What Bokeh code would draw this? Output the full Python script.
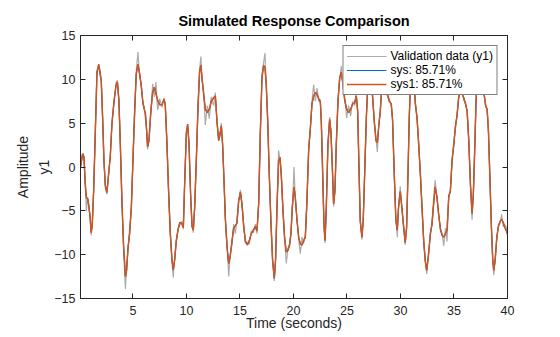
from bokeh.plotting import figure
from bokeh.models import (ColumnDataSource, Range1d, FixedTicker, LinearAxis, Title,
                          Legend, LegendItem)
from bokeh.embed import file_html
from bokeh.resources import INLINE

# ---------------- data ----------------
time_s = [0.1, 0.3, 0.42, 0.55, 0.65, 0.78, 0.9, 1.0, 1.1, 1.2, 1.33, 1.48, 1.64, 1.8, 1.92,
          2.04, 2.17, 2.29, 2.42, 2.57, 2.73, 2.88, 3.04, 3.23, 3.42, 3.55, 3.69, 3.82, 3.97,
          4.13, 4.3, 4.41, 4.53, 4.69, 4.85, 5.0, 5.16, 5.31, 5.47, 5.62, 5.78, 5.92, 6.05,
          6.16, 6.28, 6.37, 6.5, 6.65, 6.84, 7.0, 7.15, 7.31, 7.5, 7.71, 7.9, 8.02, 8.18,
          8.33, 8.49, 8.65, 8.77, 8.9, 9.05, 9.21, 9.39, 9.58, 9.71, 9.83, 9.99, 10.11,
          10.24, 10.39, 10.52, 10.64, 10.77, 10.92, 11.08, 11.23, 11.35, 11.45, 11.61,
          11.76, 11.95, 12.14, 12.32, 12.54, 12.7, 12.85, 13.01, 13.13, 13.26, 13.38,
          13.51, 13.63, 13.79, 13.95, 14.1, 14.26, 14.41, 14.57, 14.72, 14.88, 15.04,
          15.19, 15.35, 15.5, 15.69, 15.87, 16.06, 16.25, 16.44, 16.59, 16.75, 16.9,
          17.06, 17.21, 17.34, 17.46, 17.59, 17.74, 17.9, 18.05, 18.21, 18.33, 18.46,
          18.61, 18.74, 18.86, 19.02, 19.17, 19.33, 19.49, 19.64, 19.77, 19.89, 20.05,
          20.17, 20.33, 20.49, 20.64, 20.8, 20.95, 21.11, 21.26, 21.42, 21.58, 21.73,
          21.89, 22.05, 22.2, 22.36, 22.51, 22.6, 22.73, 22.85, 22.95, 23.07, 23.22,
          23.38, 23.5, 23.63, 23.75, 23.88, 24.0, 24.16, 24.32, 24.47, 24.63, 24.78,
          24.97, 25.15, 25.34, 25.53, 25.71, 25.87, 26.0, 26.12, 26.24, 26.4, 26.52,
          26.65, 26.81, 26.96, 27.09, 27.24, 27.4, 27.55, 27.71, 27.84, 27.96, 28.11,
          28.27, 28.42, 28.58, 28.73, 28.95, 29.14, 29.26, 29.42, 29.57, 29.7, 29.82,
          29.98, 30.13, 30.29, 30.44, 30.57, 30.7, 30.82, 30.95, 31.08, 31.23, 31.39,
          31.55, 31.7, 31.86, 32.01, 32.17, 32.32, 32.45, 32.63, 32.79, 32.94, 33.1,
          33.24, 33.41, 33.57, 33.73, 33.88, 34.04, 34.2, 34.35, 34.51, 34.66, 34.82,
          34.98, 35.13, 35.29, 35.44, 35.6, 35.76, 35.91, 36.07, 36.23, 36.38, 36.54,
          36.69, 36.81, 36.94, 37.06, 37.18, 37.35, 37.5, 37.65, 37.8, 37.95, 38.1,
          38.22, 38.35, 38.5, 38.62, 38.72, 38.85, 39.0, 39.15, 39.3, 39.45, 39.6,
          39.75, 39.9, 40.0]

sys_fit = [0.0, 1.5, 1.2, -2.0, -3.5, -3.7, -4.6, -5.8, -7.5, -6.6, -2.7, 3.7, 10.8, 11.7, 10.9,
           9.8, 5.6, 0.7, -2.1, -2.9, -0.8, 1.2, 4.9, 7.5, 9.3, 9.7, 7.6, 2.6, -3.8,
           -9.1, -12.5, -11.8, -9.3, -7.6, -4.6, 0.7, 6.4, 10.6, 11.7, 10.7, 9.2, 7.5, 6.6,
           6.2, 4.1, 2.3, 3.0, 6.0, 8.5, 9.1, 8.4, 7.6, 7.1, 7.1, 7.7, 7.2, 2.6,
           -2.7, -7.6, -10.6, -11.7, -10.6, -8.4, -7.2, -6.3, -6.5, -6.9, -2.0, 3.8, 4.9,
           2.6, -3.1, -6.8, -7.2, -4.6, 0.7, 6.8, 10.9, 11.6, 10.2, 8.3,
           6.6, 6.2, 6.6, 7.5, 7.9, 8.1, 5.3, 3.0, 3.75, 4.7, 2.6,
           -1.6, -5.7, -9.1, -11.0, -10.1, -8.4, -7.0, -6.7, -6.4, -3.8, -2.9,
           -4.2, -6.8, -8.4, -8.9, -8.4, -7.6, -7.2, -6.8, -7.3, -4.2, 3.7,
           10.2, 11.6, 11.3, 9.4, 5.3, -0.8, -6.5, -10.6, -12.7, -10.6, -4.6,
           0.7, 1.1, -0.8, -5.0, -8.0, -9.7, -9.5, -8.8, -7.6, -4.6, -2.3,
           -3.4, -6.1, -8.0, -8.8, -8.9, -8.4, -8.0, -3.8, 1.9, 4.5, 7.2,
           8.1, 8.5, 8.3, 7.8, 7.4, 5.3, -0.8, -6.5, -8.4, -4.6, 2.6,
           5.4, 4.1, 0.0, -4.2, -2.7, 2.6, 7.5, 10.2, 10.8, 9.4, 7.7,
           6.6, 6.2, 6.6, 7.2, 7.3, 8.1, 6.4, 0.0, -6.1, -8.0, -6.1,
           -0.8, 5.6, 9.8, 10.9, 9.8, 7.9, 5.3, 3.0, 2.8, 4.5, 6.4,
           9.4, 10.6, 9.8, 8.5, 7.5, 7.2, 5.3, -0.8, -6.1, -7.2, -4.6,
           -2.8, -4.6, -6.8, -8.6, -7.0, -0.8, 5.6, 10.2, 11.3, 10.2, 7.2,
           5.6, 2.6, -0.8, -4.6, -8.4, -10.8, -11.8, -9.9, -7.6, -6.6, -4.2,
           -2.3, -3.4, -5.5, -7.0, -7.8, -8.0, -7.6, -7.2, -3.4, -2.7, 0.7,
           2.6, 4.5, 6.0, 7.9, 8.6, 8.3, 7.9, 7.2, 6.4, 3.0, -2.0,
           -5.3, -3.1, 2.2, 7.5, 10.3, 11.3, 11.0, 9.5, 8.5, 7.0, 6.6,
           4.0, -1.0, -7.0, -10.5, -11.8, -10.6, -8.0, -6.8, -6.2, -6.0, -6.3,
           -6.9, -7.3, -7.6]

sys1_fit = list(sys_fit)

validation_y1 = [0.0, 1.6, 1.0, -2.3, -5.0, -3.4, -4.9, -5.5, -7.8, -6.2, -2.4, 4.2, 11.0, 11.4, 10.4,
                 10.0, 5.2, 1.0, -2.4, -3.1, -0.5, 1.0, 5.2, 7.2, 9.6, 9.9, 7.3, 2.9, -4.1,
                 -9.5, -13.9, -11.2, -9.8, -7.0, -4.9, 1.0, 6.0, 11.0, 13.1, 10.3, 9.6, 7.1, 6.9,
                 5.5, 4.4, 2.0, 3.3, 5.7, 9.5, 8.0, 9.7, 6.5, 7.8, 6.8, 7.9, 6.9, 2.9,
                 -3.0, -7.3, -11.0, -12.6, -10.2, -8.7, -7.0, -6.6, -6.2, -7.1, -1.7, 4.1, 4.6,
                 2.9, -3.4, -6.5, -7.5, -4.3, 0.4, 7.1, 11.2, 12.6, 9.9, 8.6,
                 4.8, 7.0, 5.5, 8.0, 7.0, 8.5, 5.0, 3.3, 3.4, 5.0, 2.3,
                 -1.3, -6.0, -8.8, -12.5, -9.8, -8.8, -6.5, -7.6, -6.0, -4.1, -2.6,
                 -4.5, -6.5, -8.7, -8.6, -8.8, -7.3, -7.5, -6.5, -7.6, -3.9, 4.0,
                 10.5, 11.9, 13.0, 9.1, 5.6, -1.1, -6.2, -10.9, -13.0, -10.3, -4.9,
                 1.9, 0.8, -1.1, -4.7, -8.3, -11.0, -9.2, -9.1, -7.3, -4.9, 0.0,
                 -3.7, -5.8, -8.3, -9.9, -8.0, -8.7, -7.7, -4.1, 2.2, 4.2, 7.5,
                 9.4, 7.5, 9.0, 7.5, 7.7, 5.0, -0.5, -6.8, -8.7, -4.3, 2.3,
                 5.7, 3.8, 0.3, -4.5, -2.4, 2.3, 7.8, 9.9, 11.5, 9.1, 8.0,
                 5.6, 7.0, 5.8, 7.5, 7.0, 8.4, 6.1, 0.3, -6.4, -8.3, -5.8,
                 -1.1, 5.9, 9.5, 11.2, 9.5, 8.2, 5.0, 3.3, 1.7, 4.8, 6.1,
                 9.7, 10.3, 10.1, 8.2, 7.8, 6.9, 5.6, -1.1, -5.8, -8.0, -4.3,
                 -2.2, -4.9, -6.5, -8.9, -6.7, -1.1, 5.9, 9.9, 11.6, 9.9, 7.5,
                 5.3, 2.9, -1.1, -4.3, -8.7, -10.5, -12.2, -9.6, -7.9, -6.3, -3.5,
                 -1.5, -3.7, -5.2, -7.3, -7.5, -9.0, -7.0, -8.5, -3.1, -3.0, 1.0,
                 2.3, 4.8, 5.7, 8.2, 8.3, 8.6, 7.6, 7.5, 6.1, 3.3, -2.3,
                 -6.0, -2.8, 1.9, 7.8, 10.0, 11.6, 10.7, 9.8, 8.2, 7.3, 6.3,
                 4.3, -1.3, -6.7, -10.8, -12.3, -10.3, -8.3, -6.5, -6.5, -5.4, -6.8,
                 -6.6, -6.9, -7.9]

x_ticks = [5, 10, 15, 20, 25, 30, 35, 40]
y_ticks = [-15, -10, -5, 0, 5, 10, 15]

# ---------------- figure ----------------
FONT = "Liberation Sans"
AX = "#262626"

src = ColumnDataSource(dict(t=time_s, val=validation_y1, sys=sys_fit, sys1=sys1_fit))

p = figure(width=560, height=337, output_backend="svg", toolbar_location=None,
           x_range=Range1d(0.1, 40), y_range=Range1d(-15, 15),
           min_border_left=80, min_border_right=53, min_border_top=35, min_border_bottom=39,
           background_fill_color="white", border_fill_color="white")

p.title.text = "Simulated Response Comparison"
p.title.align = "center"
p.title.text_font = FONT
p.title.text_font_size = "14.5px"
p.title.text_font_style = "bold"
p.title.text_color = "#000000"
p.title.standoff = 14

p.xgrid.visible = False
p.ygrid.visible = False
p.outline_line_color = AX
p.outline_line_width = 1

for ax, ticks in ((p.xaxis[0], x_ticks), (p.yaxis[0], y_ticks)):
    ax.ticker = FixedTicker(ticks=ticks)
    ax.major_tick_in = 5
    ax.major_tick_out = 0
    ax.minor_tick_line_color = None
    ax.axis_line_color = AX
    ax.major_tick_line_color = AX
    ax.major_label_text_font = FONT
    ax.major_label_text_font_size = "12.5px"
    ax.major_label_text_color = AX
    ax.axis_label_text_font = FONT
    ax.axis_label_text_font_size = "14px"
    ax.axis_label_text_font_style = "normal"
    ax.axis_label_text_color = AX

p.xaxis.axis_label = "Time (seconds)"
p.xaxis.major_label_standoff = 7
p.xaxis.axis_label_standoff = -3
p.yaxis.axis_label = "y1"
p.yaxis.major_label_standoff = 5
p.yaxis.axis_label_standoff = -1

# mirrored ticks on top and right (box style), labels not painted
for loc, ticks in (("above", x_ticks), ("right", y_ticks)):
    a = LinearAxis(ticker=FixedTicker(ticks=ticks), major_tick_in=5, major_tick_out=0,
                   minor_tick_line_color=None, axis_line_color=AX, major_tick_line_color=AX,
                   major_label_text_font_size="1px", major_label_text_color=None,
                   major_label_standoff=0)
    p.add_layout(a, loc)

p.add_layout(Title(text="Amplitude", align="center", text_font=FONT,
                   text_font_size="14px", text_font_style="normal", text_color=AX,
                   standoff=5), "left")

r_val = p.line("t", "val", source=src, line_color="#ABABAB", line_width=1.2)
r_sys = p.line("t", "sys", source=src, line_color="#0072BD", line_width=1.2)
r_sys1 = p.line("t", "sys1", source=src, line_color="#D95319", line_width=1.4)

legend = Legend(items=[LegendItem(label="Validation data (y1)", renderers=[r_val]),
                       LegendItem(label="sys: 85.71%", renderers=[r_sys]),
                       LegendItem(label="sys1: 85.71%", renderers=[r_sys1])],
                location="top_right", margin=10, padding=3, spacing=0,
                glyph_width=40, glyph_height=14, label_height=14, label_standoff=4,
                label_text_font=FONT, label_text_font_size="12px", label_text_color="#000000",
                border_line_color="#000000", border_line_width=1,
                background_fill_color="white", background_fill_alpha=1.0)
p.add_layout(legend, "center")

open("out.html", "w").write(file_html(p, INLINE))
